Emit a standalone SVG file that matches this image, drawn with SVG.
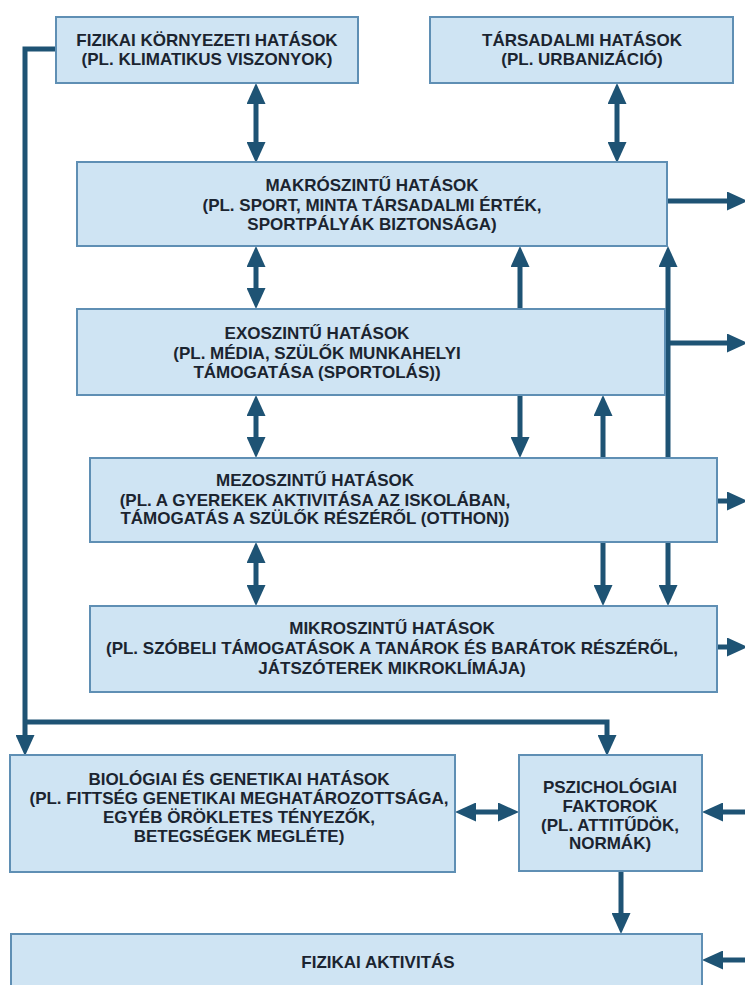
<svg xmlns="http://www.w3.org/2000/svg" width="745" height="985" viewBox="0 0 745 985">
<style>
.box{fill:#cfe4f3;stroke:#5f8fb4;stroke-width:2}
.t{font-family:"Liberation Sans",Arial,sans-serif;font-weight:bold;font-size:17px;fill:#1b2430;text-anchor:middle}
.c{fill:none;stroke:#1e5374;stroke-width:5}
</style>
<defs>
<marker id="ah" markerUnits="userSpaceOnUse" markerWidth="21" markerHeight="19" refX="6" refY="9.5" orient="auto-start-reverse" viewBox="0 0 21 19">
<path d="M0,0 L21,9.5 L0,19 z" fill="#1e5374"/>
</marker>
</defs>
<rect width="745" height="985" fill="#ffffff"/>
<g id="connectors">
<path class="c" d="M58,49 H25 V741" marker-end="url(#ah)"/>
<path class="c" d="M25,722 H607 V741" marker-end="url(#ah)"/>
<line class="c" x1="256" y1="98" x2="256" y2="148" marker-start="url(#ah)" marker-end="url(#ah)"/>
<line class="c" x1="617" y1="98" x2="617" y2="148" marker-start="url(#ah)" marker-end="url(#ah)"/>
<line class="c" x1="256" y1="261" x2="256" y2="294" marker-start="url(#ah)" marker-end="url(#ah)"/>
<line class="c" x1="256" y1="410" x2="256" y2="443" marker-start="url(#ah)" marker-end="url(#ah)"/>
<line class="c" x1="256" y1="557" x2="256" y2="591" marker-start="url(#ah)" marker-end="url(#ah)"/>
<line class="c" x1="520" y1="261" x2="520" y2="443" marker-start="url(#ah)" marker-end="url(#ah)"/>
<line class="c" x1="603" y1="410" x2="603" y2="591" marker-start="url(#ah)" marker-end="url(#ah)"/>
<line class="c" x1="668" y1="261" x2="668" y2="591" marker-start="url(#ah)" marker-end="url(#ah)"/>
<line class="c" x1="667" y1="201" x2="733" y2="201" marker-end="url(#ah)"/>
<line class="c" x1="667" y1="343" x2="733" y2="343" marker-end="url(#ah)"/>
<line class="c" x1="717" y1="501" x2="733" y2="501" marker-end="url(#ah)"/>
<line class="c" x1="717" y1="647" x2="733" y2="647" marker-end="url(#ah)"/>
<line class="c" x1="746" y1="812" x2="717" y2="812" marker-end="url(#ah)"/>
<line class="c" x1="746" y1="960" x2="717" y2="960" marker-end="url(#ah)"/>
<line class="c" x1="470" y1="812" x2="504" y2="812" marker-start="url(#ah)" marker-end="url(#ah)"/>
<line class="c" x1="621" y1="871" x2="621" y2="919" marker-end="url(#ah)"/>
</g>
<g id="fizikai-kornyezeti">
<rect class="box" x="56" y="17" width="302" height="66"/>
<text class="t" x="207" y="46">FIZIKAI KÖRNYEZETI HATÁSOK</text>
<text class="t" x="207" y="65">(PL. KLIMATIKUS VISZONYOK)</text>
</g>
<g id="tarsadalmi">
<rect class="box" x="430" y="17" width="303" height="66"/>
<text class="t" x="582" y="46">TÁRSADALMI HATÁSOK</text>
<text class="t" x="582" y="65">(PL. URBANIZÁCIÓ)</text>
</g>
<g id="makro">
<rect class="box" x="77" y="162" width="590" height="84"/>
<text class="t" x="372" y="191">MAKRÓSZINTŰ HATÁSOK</text>
<text class="t" x="372" y="211">(PL. SPORT, MINTA TÁRSADALMI ÉRTÉK,</text>
<text class="t" x="372" y="230">SPORTPÁLYÁK BIZTONSÁGA)</text>
</g>
<g id="exo">
<rect class="box" x="77" y="309" width="588" height="86"/>
<text class="t" x="317" y="339">EXOSZINTŰ HATÁSOK</text>
<text class="t" x="317" y="359">(PL. MÉDIA, SZÜLŐK MUNKAHELYI</text>
<text class="t" x="317" y="378">TÁMOGATÁSA (SPORTOLÁS))</text>
</g>
<g id="mezo">
<rect class="box" x="90" y="458" width="627" height="84"/>
<text class="t" x="315" y="486">MEZOSZINTŰ HATÁSOK</text>
<text class="t" x="315" y="506">(PL. A GYEREKEK AKTIVITÁSA AZ ISKOLÁBAN,</text>
<text class="t" x="315" y="524">TÁMOGATÁS A SZÜLŐK RÉSZÉRŐL (OTTHON))</text>
</g>
<g id="mikro">
<rect class="box" x="90" y="606" width="627" height="86"/>
<text class="t" x="392" y="634">MIKROSZINTŰ HATÁSOK</text>
<text class="t" x="392" y="654">(PL. SZÓBELI TÁMOGATÁSOK A TANÁROK ÉS BARÁTOK RÉSZÉRŐL,</text>
<text class="t" x="392" y="674">JÁTSZÓTEREK MIKROKLÍMÁJA)</text>
</g>
<g id="biologiai">
<rect class="box" x="10" y="755" width="445" height="117"/>
<text class="t" x="239" y="785">BIOLÓGIAI ÉS GENETIKAI HATÁSOK</text>
<text class="t" x="239" y="804">(PL. FITTSÉG GENETIKAI MEGHATÁROZOTTSÁGA,</text>
<text class="t" x="239" y="823">EGYÉB ÖRÖKLETES TÉNYEZŐK,</text>
<text class="t" x="239" y="842">BETEGSÉGEK MEGLÉTE)</text>
</g>
<g id="pszichologiai">
<rect class="box" x="519" y="755" width="183" height="116"/>
<text class="t" x="610" y="793">PSZICHOLÓGIAI</text>
<text class="t" x="610" y="812">FAKTOROK</text>
<text class="t" x="610" y="831">(PL. ATTITŰDÖK,</text>
<text class="t" x="610" y="849">NORMÁK)</text>
</g>
<g id="fizikai-aktivitas">
<rect class="box" x="11" y="934" width="691" height="60"/>
<text class="t" x="378" y="968">FIZIKAI AKTIVITÁS</text>
</g>
</svg>
